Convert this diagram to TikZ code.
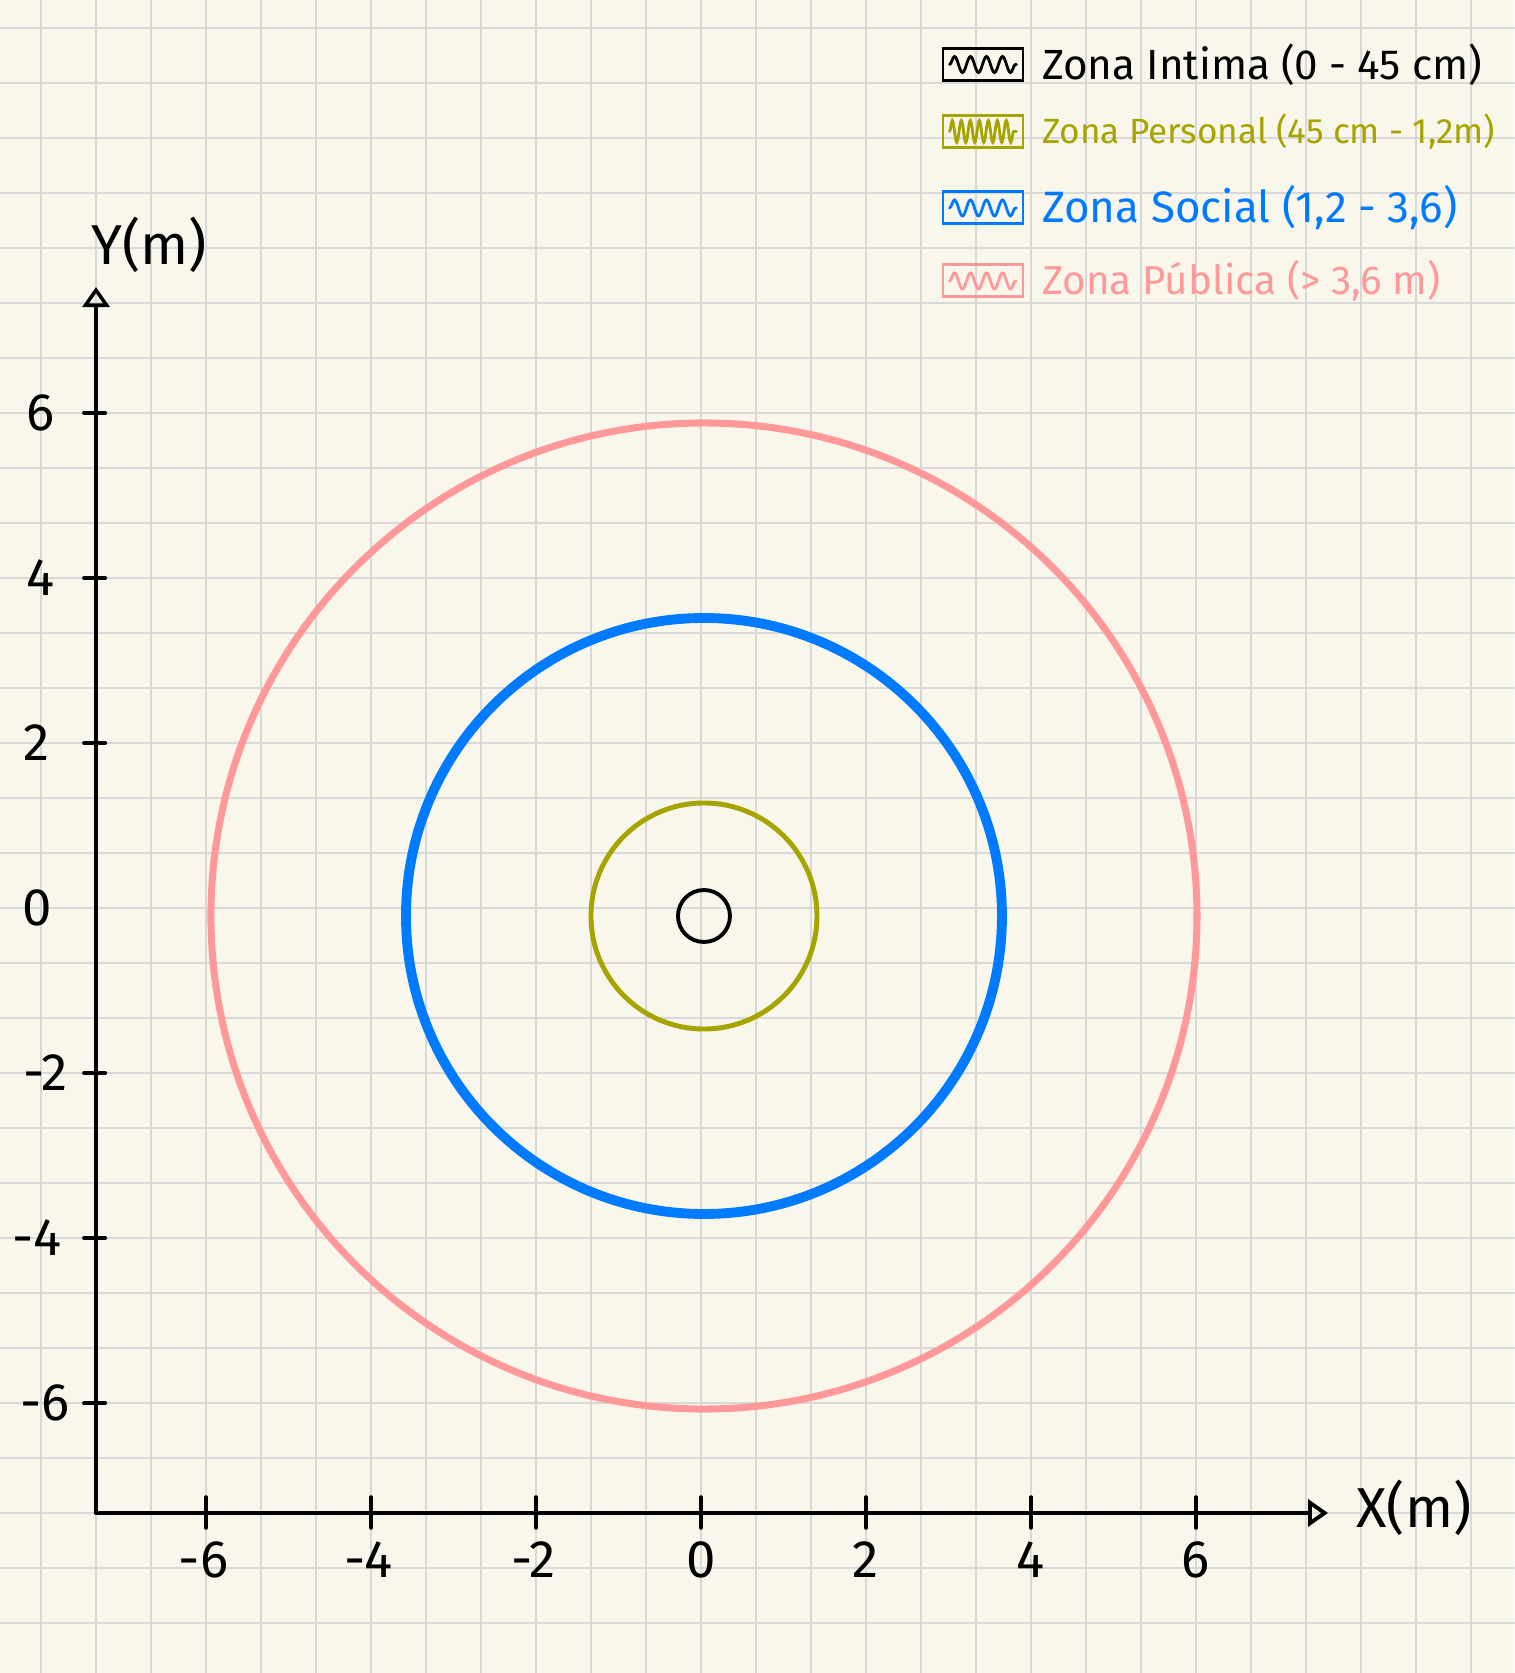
\documentclass[tikz,border=0pt]{standalone}
\usepackage{fontspec}
\setmainfont{Fira Sans}
\usetikzlibrary{positioning,arrows.meta,decorations.pathmorphing}
\definecolor{paper}{RGB}{249,247,236}
\definecolor{gridline}{RGB}{216,216,216}
\definecolor{intima}{RGB}{0,0,0}
\definecolor{personal}{RGB}{166,164,0}
\definecolor{social}{RGB}{0,122,255}
\definecolor{publica}{RGB}{255,153,153}
\tikzset{
  legbox/.style={draw,line width=0.85pt,minimum width=8mm,minimum height=3.2mm,inner sep=0pt},
  legtext/.style={inner sep=0pt,font=\fontsize{11.5}{14}\selectfont},
  scribble/.style={decorate,decoration={snake,amplitude=0.8mm,segment length=1.6mm},line width=0.8pt},
  ticklab/.style={inner sep=0pt,font=\fontsize{15}{17}\selectfont},
  axislab/.style={inner sep=0pt,font=\fontsize{16}{18}\selectfont},
}
\begin{document}
\begin{tikzpicture}[x=0.825cm,y=0.825cm,>={Triangle[open,length=2mm,width=2.7mm]},line cap=round]
\useasboundingbox (-8.497,-9.2727) rectangle (9.8545,11.0061);
\fill[paper] (-8.497,-9.2727) rectangle (9.8545,11.0061);
\draw[gridline,line width=0.7pt,step=0.666667] (-8.497,-9.2727) grid (9.8545,11.0061);

% zonas
\coordinate (centro) at (0.036,-0.097);
\draw[publica,line width=2pt] (centro) circle (5.976);
\draw[social,line width=2.8pt] (centro) circle (3.612);
\draw[personal,line width=1.4pt] (centro) circle (1.37);
\draw[intima,line width=1.1pt] (centro) circle (0.315);

% ejes
\coordinate (orig) at (-7.333,-7.333);
\coordinate (xtip) at (7.6,-7.333);
\coordinate (ytip) at (-7.333,7.527);
\draw[->,line width=1.1pt] (orig) -- (xtip);
\draw[->,line width=1pt] (orig) -- (ytip);

\draw[line width=1pt] (-6,-7.515) -- (-6,-7.139);
\draw[line width=1pt] (-4,-7.515) -- (-4,-7.139);
\draw[line width=1pt] (-2,-7.515) -- (-2,-7.139);
\draw[line width=1pt] (0,-7.515) -- (0,-7.139);
\draw[line width=1pt] (2,-7.515) -- (2,-7.139);
\draw[line width=1pt] (4,-7.515) -- (4,-7.139);
\draw[line width=1pt] (6,-7.515) -- (6,-7.139);

\draw[line width=1pt] (-7.48,6) -- (-7.22,6);
\draw[line width=1pt] (-7.48,4) -- (-7.22,4);
\draw[line width=1pt] (-7.48,2) -- (-7.22,2);
\draw[line width=1pt] (-7.48,-2) -- (-7.22,-2);
\draw[line width=1pt] (-7.48,-4) -- (-7.22,-4);
\draw[line width=1pt] (-7.48,-6) -- (-7.22,-6);

\node (xlm6) at (-6.03,-7.90) [ticklab] {-6};
\node (xlm4) at (-4.03,-7.90) [ticklab] {-4};
\node (xlm2) at (-2.03,-7.90) [ticklab] {-2};
\node (xl0) at (0,-7.90) [ticklab] {0};
\node (xl2) at (2,-7.90) [ticklab] {2};
\node (xl4) at (4,-7.90) [ticklab] {4};
\node (xl6) at (6,-7.90) [ticklab] {6};

\node (yl6) at (-8.01,6) [ticklab] {6};
\node (yl4) at (-8.01,4) [ticklab] {4};
\node (yl2) at (-8.05,2) [ticklab] {2};
\node (yl0) at (-8.05,0) [ticklab] {0};
\node (ylm2) at (-7.95,-2) [ticklab] {-2};
\node (ylm4) at (-8.05,-4) [ticklab] {-4};
\node (ylm6) at (-7.95,-6) [ticklab] {-6};

\node (xlab) at (8.642,-7.273) [axislab] {X(m)};
\node (ylab) at (-6.691,8.036) [axislab] {Y(m)};

% leyenda
\node (legI) at (3.418,10.224) [legbox,intima] {};
\node (legP) at (3.418,9.412) [legbox,personal] {};
\node (legS) at (3.418,8.485) [legbox,social] {};
\node (legB) at (3.418,7.6) [legbox,publica] {};
\draw[scribble,intima] ([xshift=0.8mm]legI.west) -- ([xshift=-0.8mm]legI.east);
\draw[scribble,personal,decoration={segment length=0.9mm,amplitude=1.1mm}] ([xshift=0.8mm]legP.west) -- ([xshift=-0.8mm]legP.east);
\draw[scribble,social] ([xshift=0.8mm]legS.west) -- ([xshift=-0.8mm]legS.east);
\draw[scribble,publica] ([xshift=0.8mm]legB.west) -- ([xshift=-0.8mm]legB.east);
\node (txtI) [legtext,intima,right=1.7mm of legI,font=\fontsize{12}{14}\selectfont] {Zona Intima (0 - 45 cm)};
\node (txtP) [legtext,personal,right=1.7mm of legP,font=\fontsize{10}{12}\selectfont] {Zona Personal (45 cm - 1,2m)};
\node (txtS) [legtext,social,right=1.7mm of legS,font=\fontsize{12.5}{15}\selectfont] {Zona Social (1,2 - 3,6)};
\node (txtB) [legtext,publica,right=1.7mm of legB] {Zona Pública (> 3,6 m)};
\end{tikzpicture}
\end{document}
